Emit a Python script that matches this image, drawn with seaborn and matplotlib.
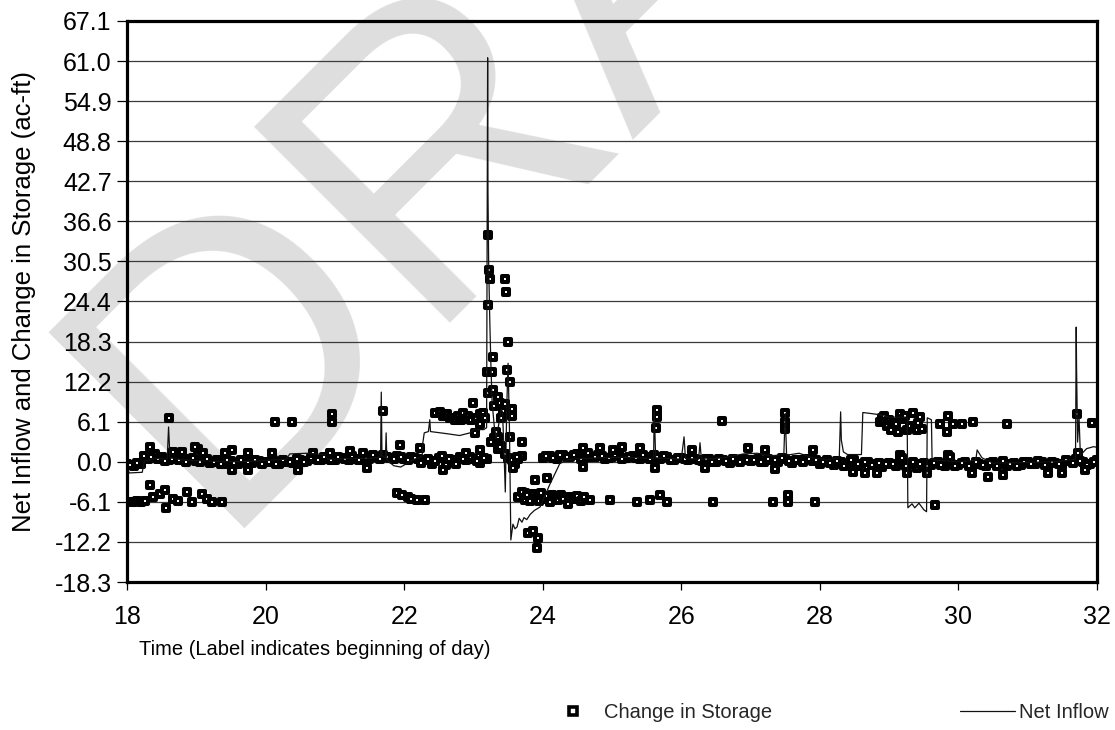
import numpy as np
import pandas as pd
import matplotlib
matplotlib.use("Agg")
import matplotlib.pyplot as plt
import seaborn as sns
from matplotlib.lines import Line2D

sns.set_theme(style="white")
plt.rcParams["font.family"] = ["Liberation Sans", "DejaVu Sans"]

# ---------------------------------------------------------------------------
# Change in storage (ac-ft): routine readings every 0.1 day (two offset runs)
# ---------------------------------------------------------------------------
band_a = [
    -0.3, -0.6, -0.4, 0.5, 1.2, 0.8, 0.3, 0.6, 0.2, 0.4,      # day 18
    0.1, 0.3, -0.2, 0.2, -0.3, 0.1, -0.4, 0.0, -0.2, 0.1,     # day 19
    -0.1, 0.2, -0.3, 0.0, -0.2, 0.3, 0.1, 0.4, 0.2, 0.5,      # day 20
    0.3, 0.6, 0.2, 0.5, 0.8, 0.4, 0.7, 1.1, 0.6, 0.9,         # day 21
    0.5, 0.8, 0.4, 0.2, -0.3, 0.6, -0.5, 0.3, 0.7, 0.2,       # day 22
    0.5, -0.2, 0.4, 3.6, 2.4, 0.6, -0.4, 0.9, -5.4, -5.0,     # day 23
    0.6, 0.9, 0.5, 1.0, 0.7, 1.2, 0.6, 0.8, 1.1, 0.5,         # day 24
    0.8, 1.0, 0.6, 0.9, 0.4, 0.7, 1.0, 0.5, 0.8, 0.3,         # day 25
    0.6, 0.2, 0.5, 0.1, 0.4, 0.0, 0.3, -0.2, 0.2, 0.4,        # day 26
    0.1, 0.5, -0.1, 0.3, 0.0, 0.4, -0.2, 0.2, 0.5, 0.1,       # day 27
    -0.3, 0.2, -0.5, 0.0, -0.4, 0.3, -0.6, -0.1, -0.3, -0.8,  # day 28
    -0.2, -0.6, 0.1, -0.4, -0.9, -0.2, -0.5, 0.0, -0.7, -0.3, # day 29
    -0.5, -0.1, -0.8, -0.3, -0.6, 0.0, -0.4, -0.7, -0.2, -0.5,# day 30
    -0.1, -0.4, 0.0, -0.6, -0.2, -0.5, 0.1, 0.4, 0.0, -0.3,   # day 31
    0.2,                                                       # day 32
]
band_b = [
    -0.5, -0.2, 0.9, 0.7, 0.4, 0.1, 0.5, 0.3, 0.0, 0.6,
    -0.1, 0.4, 0.0, -0.3, 0.2, -0.2, 0.3, -0.1, 0.2, -0.3,
    0.0, -0.3, 0.3, -0.1, 0.5, -0.1, 0.6, 0.3, 0.7, 0.2,
    0.7, 0.4, 0.9, 0.3, 0.6, 1.0, 0.5, 0.8, 0.4, 0.7,
    0.2, 0.6, -0.2, 0.5, 0.1, 0.9, 0.4, -0.4, 0.5, 0.8,
    0.1, 0.6, 3.0, 2.0, 1.2, 0.2, 0.5, -4.8, -5.6, -5.2,
    0.9, 0.6, 1.1, 0.7, 1.0, 0.5, 1.3, 0.7, 0.9, 0.6,
    1.1, 0.5, 0.8, 0.6, 1.0, 0.4, 0.7, 0.9, 0.2, 0.6,
    0.4, 0.6, 0.2, 0.5, -0.1, 0.4, 0.1, 0.5, 0.0, 0.3,
    0.3, 0.0, 0.4, 0.2, 0.6, 0.1, 0.3, -0.1, 0.4, 0.2,
    0.0, -0.2, 0.1, -0.6, 0.2, -0.4, 0.0, -0.5, -0.2, -0.4,
    -0.4, 0.0, -0.7, -0.1, -0.4, -0.7, -0.2, -0.5, 0.1, -0.6,
    -0.2, -0.6, 0.0, -0.5, -0.2, -0.7, 0.1, -0.4, -0.6, 0.0,
    -0.3, 0.1, -0.5, -0.1, -0.4, 0.2, -0.2, 0.1, -0.5, 0.0,
]
band_a_time = np.round(18.0 + 0.1 * np.arange(len(band_a)), 2)
band_b_time = np.round(18.05 + 0.1 * np.arange(len(band_b)), 2)

# Change in storage: event readings away from the routine band
event_time = [
    18.02, 18.08, 18.14, 18.20, 18.26, 18.33, 18.38, 18.47, 18.55, 18.56,
    18.66, 18.74, 18.87, 18.94, 19.08, 19.16, 19.23, 19.37,
    18.61, 18.33, 18.80, 19.02, 19.42, 18.66, 18.98, 19.10,
    19.52, 19.75, 20.47, 19.52, 19.75, 20.09, 20.68, 20.93, 21.22, 21.40,
    21.94, 22.23, 22.90, 23.09, 22.56, 21.46,
    20.14, 20.38, 20.96, 20.96, 21.69,
    21.90, 21.97, 22.05, 22.10, 22.18, 22.30,
    22.45, 22.52, 22.56, 22.62, 22.66, 22.70, 22.74, 22.78, 22.82, 22.85,
    22.88, 22.92, 22.96, 22.99, 23.02, 23.04, 23.09, 23.10, 23.14, 23.17,
    23.21, 23.22, 23.24, 23.46, 23.47, 23.21, 23.50, 23.28, 23.20, 23.27,
    23.48, 23.53, 23.21, 23.28, 23.35, 23.30, 23.38, 23.42, 23.45, 23.52,
    23.55, 23.40, 23.36, 23.38, 23.32, 23.53, 23.70, 23.63, 23.57, 23.55,
    23.89, 24.06, 23.79, 23.86, 23.93, 23.92,
    23.65, 23.70, 23.74, 23.78, 23.82, 23.86, 23.90, 23.94, 23.98, 24.02,
    24.06, 24.10, 24.14, 24.18, 24.22, 24.26, 24.30, 24.36, 24.40, 24.45,
    24.50, 24.55, 24.60, 24.68, 24.97, 25.36, 25.55, 25.69, 25.79,
    24.58, 24.58, 24.83, 25.01, 25.14, 25.40, 25.65, 25.65, 25.63, 25.62,
    26.15, 26.34, 26.46, 26.59, 26.96, 27.21, 27.32, 27.35, 27.50, 27.50,
    27.49, 27.54, 27.54, 27.90, 27.93,
    28.48, 28.65, 28.82, 28.87, 28.90, 28.93, 28.97, 29.00, 29.03, 29.05,
    29.10, 29.13, 29.16, 29.20, 29.23, 29.26, 29.26, 29.30, 29.34, 29.37,
    29.40, 29.42, 29.45, 29.47, 29.16, 29.18, 29.55, 29.66,
    29.73, 29.83, 29.85, 29.85, 29.88, 29.92, 30.05, 30.19, 30.21, 30.43,
    30.64, 30.70, 31.29, 31.49, 31.71, 31.72, 31.83, 31.93,
]
event_value = [
    -6.1, -6.1, -6.0, -6.1, -5.9, -3.5, -5.3, -4.9, -4.3, -7.0,
    -5.6, -6.0, -4.6, -6.1, -4.9, -5.6, -6.1, -6.1,
    6.7, 2.3, 1.5, 2.0, 1.3, 1.5, 2.3, 1.4,
    -1.2, -1.2, -1.2, 1.8, 1.4, 1.4, 1.4, 1.4, 1.7, 1.4,
    2.6, 2.1, 1.4, 1.8, -1.2, -0.9,
    6.1, 6.1, 7.3, 6.1, 7.8,
    -4.7, -5.0, -5.3, -5.6, -5.8, -5.8,
    7.5, 7.6, 7.0, 7.3, 6.6, 6.7, 6.3, 6.9, 6.4, 7.5,
    6.5, 6.9, 6.3, 8.9, 4.4, 6.6, 5.8, 7.2, 7.5, 6.6,
    34.5, 29.2, 27.8, 27.8, 25.9, 23.9, 18.2, 15.9, 13.7, 13.7,
    14.0, 12.2, 10.5, 11.0, 9.9, 8.5, 9.0, 7.8, 8.8, 7.5,
    8.0, 6.6, 3.8, 2.3, 4.5, 3.7, 3.0, 0.8, -0.9, 6.9,
    -2.7, -2.4, -10.8, -10.6, -11.6, -13.1,
    -5.3, -4.6, -5.8, -5.0, -6.0, -4.9, -5.5, -5.9, -4.8, -5.6,
    -5.2, -6.1, -5.0, -5.4, -5.8, -5.1, -5.6, -6.5, -5.3, -5.6,
    -5.2, -5.9, -5.4, -5.8, -5.8, -6.1, -5.8, -5.0, -6.1,
    2.1, -0.8, 2.1, 1.8, 2.3, 2.1, 7.9, 6.8, 5.1, -0.9,
    1.8, -0.9, -6.1, 6.2, 2.1, 1.8, -6.1, -1.1, 7.4, 6.1,
    5.0, -5.0, -6.1, 1.8, -6.1,
    -1.5, -1.7, -1.7, 6.1, 6.6, 7.0, 5.4, 6.3, 4.8, 5.9,
    5.8, 4.6, 7.2, 6.5, 7.0, 4.9, -1.7, 5.5, 7.5, 5.2,
    4.9, 5.9, 6.8, 5.0, 1.1, 0.6, -1.7, -6.6,
    5.8, 4.6, 7.0, 1.1, 0.8, 5.8, 5.8, -1.7, 6.1, -2.3,
    -2.0, 5.7, -1.7, -1.7, 7.2, 1.4, -1.2, 5.9,
]

# ---------------------------------------------------------------------------
# Net inflow (ac-ft)
# ---------------------------------------------------------------------------
inflow_time = [
    18.00, 18.03, 18.22, 18.25, 18.40, 18.58, 18.60, 18.62, 18.80, 19.20,
    19.60, 20.00, 20.30, 20.35, 20.60, 20.85, 20.90, 21.30, 21.60, 21.66,
    21.67, 21.68, 21.73, 21.74, 21.75, 21.85, 21.95, 22.05, 22.15, 22.26,
    22.27, 22.29, 22.35, 22.37, 22.38, 22.60, 22.80, 22.95, 23.00, 23.15,
    23.19, 23.20, 23.205, 23.21, 23.22, 23.235, 23.25, 23.27, 23.30, 23.33,
    23.37, 23.40, 23.42, 23.44, 23.46, 23.48, 23.50, 23.52, 23.54, 23.57,
    23.60, 23.63, 23.66, 23.70, 23.73, 23.77, 23.82, 23.88, 23.96, 24.10,
    24.25, 24.40, 24.80, 25.20, 25.60, 25.61, 25.63, 26.00, 26.04, 26.06,
    26.25, 26.27, 26.29, 26.60, 26.90, 27.10, 27.30, 27.48, 27.50, 27.52,
    27.70, 27.90, 28.10, 28.28, 28.30, 28.31, 28.34, 28.40, 28.60, 28.62,
    28.70, 28.84, 29.00, 29.26, 29.27, 29.33, 29.37, 29.43, 29.50, 29.54,
    29.55, 29.61, 29.62, 30.00, 30.25, 30.27, 30.34, 30.50, 31.00, 31.40,
    31.69, 31.70, 31.705, 31.72, 31.74, 31.76, 31.85, 31.95, 32.00,
]
inflow_value = [
    -0.4, -1.7, -1.6, 0.1, 0.5, 0.4, 5.3, 0.6, 0.3, 0.1,
    0.0, 0.2, 0.4, 1.2, 1.3, 1.1, 0.4, 0.5, 0.6, 0.8,
    10.6, 0.9, 0.6, 4.4, 0.3, -0.6, -0.8, -0.2, 0.4, 0.8,
    2.9, 4.4, 4.6, 6.4, 4.6, 4.3, 4.0, 4.4, 4.9, 4.9,
    5.2, 43.5, 61.5, 41.0, 30.0, 22.0, 15.5, 9.0, 5.5, 3.5,
    6.0, 8.0, 7.6, 2.0, -4.6, 8.0, 15.0, 5.0, -11.9, -9.5,
    -10.2, -9.9, -8.6, -9.2, -8.5, -8.8, -8.0, -7.4, -6.9, -3.5,
    -0.2, 0.4, 0.6, 0.7, 0.5, 7.9, 0.6, 0.4, 3.8, 0.5,
    0.4, 2.9, 0.4, 0.6, 1.2, 1.3, 0.9, 1.1, 7.4, 1.0,
    1.3, 0.6, 0.3, 0.6, 7.6, 3.3, 1.5, 1.1, 1.1, 7.5,
    7.4, 7.2, 6.8, 6.8, -7.0, -6.4, -7.0, -6.3, -7.3, -7.6,
    6.7, 6.4, 0.3, 0.0, 0.2, 1.8, 0.6, -0.2, -0.1, 0.0,
    0.4, 20.5, 14.4, 3.0, 7.0, 1.0, 2.0, 2.3, 2.2,
]

y_ticks = [-18.3, -12.2, -6.1, 0.0, 6.1, 12.2, 18.3, 24.4, 30.5, 36.6,
           42.7, 48.8, 54.9, 61.0, 67.1]
x_ticks = [18, 20, 22, 24, 26, 28, 30, 32]

storage = pd.DataFrame({
    "time": np.concatenate([band_a_time, band_b_time, event_time]),
    "change": np.concatenate([band_a, band_b, event_value]),
})
inflow = pd.DataFrame({"time": inflow_time, "net": inflow_value})

W, H = 1115, 730
fig = plt.figure(figsize=(W / 100, H / 100), dpi=100)
fig.patch.set_facecolor("white")
ax = fig.add_axes([127 / W, 1 - 582 / H, 970 / W, 561 / H])
ax.set_facecolor("none")

# DRAFT watermark behind the plot
fig.text(212 / W, 1 - 528 / H, "DRAFT", fontsize=290, rotation=45,
         rotation_mode="anchor", ha="left", va="baseline",
         color="#dedede", zorder=-5, family="Liberation Sans")

for yv in y_ticks:
    ax.axhline(yv, color="#3a3a3a", lw=0.9, zorder=1)

sns.scatterplot(data=storage, x="time", y="change", ax=ax, marker="s",
                s=25, facecolor="white", edgecolor="black", linewidth=2.9,
                legend=False, zorder=3)
sns.lineplot(data=inflow, x="time", y="net", ax=ax, color="#111111",
             lw=0.9, estimator=None, sort=False, legend=False, zorder=4)

ax.set_xlim(18, 32)
ax.set_ylim(-18.3, 67.1)
ax.set_xticks(x_ticks)
ax.set_xticklabels([str(v) for v in x_ticks])
ax.set_yticks(y_ticks)
ax.set_yticklabels([f"{v:.1f}" for v in y_ticks])
ax.tick_params(axis="both", which="major", direction="out", color="black",
               width=0.9, labelsize=18, labelcolor="black")
ax.tick_params(axis="y", length=7, pad=4, left=True)
ax.tick_params(axis="x", length=5.5, pad=11, bottom=True)
for sp in ax.spines.values():
    sp.set_visible(True)
    sp.set_color("black")
    sp.set_linewidth(2.3)
    sp.set_zorder(6)
ax.grid(False)

ax.set_ylabel("Net Inflow and Change in Storage (ac-ft)", fontsize=18.5,
              color="black")
ax.yaxis.set_label_coords((36 - 127) / 970, 0.5)
ax.set_xlabel("Time (Label indicates beginning of day)", fontsize=14.5,
              color="black", ha="left")
ax.xaxis.set_label_coords((139 - 127) / 970, (582 - 640) / 561)

handles = [
    Line2D([], [], marker="s", ls="none", mfc="white", mec="black",
           ms=5.5, mew=2.6),
    Line2D([], [], color="#111111", lw=0.9),
]
fig.legend(handles, ["Change in Storage", "Net Inflow"], ncol=2,
           loc="center left", bbox_to_anchor=(545 / W, 1 - 713 / H),
           frameon=False, fontsize=14.5, handlelength=2.75,
           handletextpad=0.2, columnspacing=9.3, numpoints=1, borderpad=0,
           borderaxespad=0)

fig.savefig("out.png", dpi=100, facecolor="white")
